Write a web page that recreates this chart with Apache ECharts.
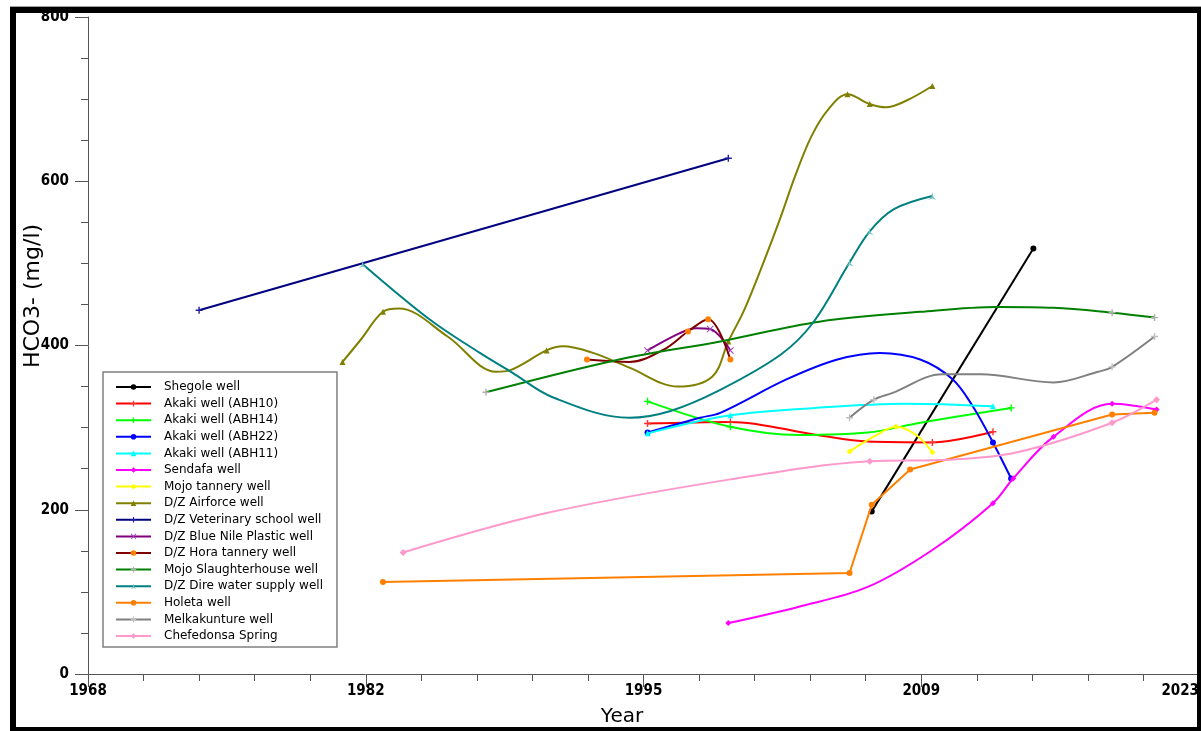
<!DOCTYPE html>
<html><head><meta charset="utf-8">
<script src="https://cdn.jsdelivr.net/npm/echarts@6/dist/echarts.min.js"></script>
<style>html,body{margin:0;padding:0;background:#fff}#c{width:1201px;height:731px}</style>
</head><body><div id="c"></div>
<script>
// ---- tick labels ----
const xTickLabels = ['1968', '1982', '1995', '2009', '2023'];
const yTickValues = [0, 200, 400, 600, 800];

// ---- series names ----
const seriesNames = ['Shegole well', 'Akaki well (ABH10)', 'Akaki well (ABH14)', 'Akaki well (ABH22)',
  'Akaki well (ABH11)', 'Sendafa well', 'Mojo tannery well', 'D/Z Airforce well', 'D/Z Veterinary school well',
  'D/Z Blue Nile Plastic well', 'D/Z Hora tannery well', 'Mojo Slaughterhouse well', 'D/Z Dire water supply well',
  'Holeta well', 'Melkakunture well', 'Chefedonsa Spring'];

// ---- sampled points [year, HCO3 mg/l] (shown with markers) ----
const shegole = [[2006.8, 198], [2014.8, 518]];
const abh10 = [[1995.7, 305], [1999.8, 307], [2009.8, 282], [2012.8, 295]];
const abh14 = [[1995.7, 332], [1999.8, 301], [2013.7, 324]];
const abh22 = [[1995.7, 294], [2012.8, 282], [2013.7, 238]];
const abh11 = [[1995.7, 293], [1999.8, 315], [2012.8, 326]];
const sendafa = [[1999.7, 62], [2012.8, 208], [2013.8, 238], [2015.8, 289], [2018.7, 329], [2020.9, 322]];
const mojoTannery = [[2005.7, 271], [2008.0, 301], [2009.8, 270]];
const airforce = [[1980.6, 380], [1982.6, 441], [1990.7, 394], [1999.7, 405], [2005.6, 706], [2006.7, 694], [2009.8, 716]];
const veterinary = [[1973.5, 443], [1999.7, 628]];
const blueNile = [[1995.7, 394], [1998.8, 420], [1999.8, 394]];
const hora = [[1992.7, 383], [1997.7, 417], [1998.7, 432], [1999.8, 383]];
const mojoSlaughter = [[1987.7, 343], [2018.7, 440], [2020.8, 434]];
const dire = [[1981.6, 499], [2005.7, 501], [2006.7, 539], [2009.8, 582]];
const holeta = [[1982.6, 112], [2005.7, 123], [2006.8, 206], [2008.7, 249], [2018.7, 316], [2020.8, 318]];
const melkakunture = [[2005.7, 312], [2006.9, 334], [2018.7, 374], [2020.8, 411]];
const chefedonsa = [[1983.6, 148], [2006.7, 259], [2018.7, 306], [2020.9, 334]];

// ---- extra points (no markers) ----
const abh10Trace = [[2004.1, 291], [2006.6, 283]];
const abh14Trace = [[2003.2, 291], [2006.6, 294], [2009.2, 306]];
const abh22Trace = [[1998.3, 312], [1999.3, 318], [2002.6, 359], [2005.1, 383], [2007.2, 391], [2009.2, 383], [2010.8, 359], [2011.8, 326]];
const abh11Trace = [[2004.0, 324], [2008.5, 329]];
const sendafaTrace = [[2003.2, 82], [2006.6, 106], [2009.8, 151]];
const mojoTanneryTrace = [[2006.9, 289], [2009.0, 291]];
const airforceTrace = [[1981.5, 407], [1983.4, 445], [1985.8, 411], [1988.2, 368], [1988.9, 370], [1991.5, 399],
  [1993.0, 391], [1994.8, 373], [1997.2, 350], [1998.9, 362], [2000.5, 444], [2001.5, 505], [2002.3, 557],
  [2003.0, 606], [2003.8, 654], [2004.6, 686], [2007.5, 690], [2008.5, 698]];
const blueNileTrace = [[1997.3, 415], [1998.1, 421]];
const horaTrace = [[1994.8, 380], [1996.5, 395]];
const mojoSlaughterTrace = [[1994.3, 383], [1999.3, 405], [2004.2, 429], [2009.2, 441], [2013.0, 447], [2015.8, 446]];
const direTrace = [[1984.9, 432], [1987.4, 391], [1989.0, 367], [1991.0, 337], [1994.8, 312], [1996.8, 320],
  [1999.3, 346], [2002.3, 389], [2003.9, 428], [2007.9, 566]];
const melkakuntureTrace = [[2007.8, 342], [2010.3, 365], [2012.2, 365], [2015.8, 355], [2018.0, 368]];
const chefedonsaTrace = [[1990.7, 196], [1999.8, 237], [2010.7, 261], [2014.0, 270]];

// ---- styles ----
const PLUS = 'path://M4,0H6V4H10V6H6V10H4V6H0V4H4Z';
const CROSS = 'path://M1,0L5,4L9,0L10,1L6,5L10,9L9,10L5,6L1,10L0,9L4,5L0,1Z';
const STAR3 = 'path://M5,0L6.2,6L10,9.5L5,7.6L0,9.5L3.8,6Z';

const defs = [
  [shegole, [], '#000000', '#000000', 'circle', 6, false],
  [abh10, abh10Trace, '#ff0000', '#ff3030', PLUS, 7, true],
  [abh14, abh14Trace, '#00ff00', '#00ff00', PLUS, 7, true],
  [abh22, abh22Trace, '#0000ff', '#0000ff', 'circle', 6, true],
  [abh11, abh11Trace, '#00ffff', '#00ffff', 'triangle', 6, true],
  [sendafa, sendafaTrace, '#ff00ff', '#ff00ff', 'diamond', 6, true],
  [mojoTannery, mojoTanneryTrace, '#ffff00', '#ffff00', 'diamond', 6, true],
  [airforce, airforceTrace, '#808000', '#808000', 'triangle', 6, true],
  [veterinary, [], '#000080', '#2020a0', PLUS, 7, false],
  [blueNile, blueNileTrace, '#800080', '#a040c0', CROSS, 7, true],
  [hora, horaTrace, '#800000', '#ff8000', 'circle', 6, true],
  [mojoSlaughter, mojoSlaughterTrace, '#008000', '#b0b0b0', PLUS, 7, true],
  [dire, direTrace, '#008080', '#70c0c0', STAR3, 8, true],
  [holeta, [], '#ff8000', '#ff8000', 'circle', 6, false],
  [melkakunture, melkakuntureTrace, '#808080', '#c0c0c0', PLUS, 7, true],
  [chefedonsa, chefedonsaTrace, '#ff99cc', '#ff99cc', 'diamond', 7, true]
];

const series = defs.map((d, i) => {
  const [pts, trace, color, mark, symbol, size, smooth] = d;
  const data = pts.map(p => ({ value: p }))
    .concat(trace.map(p => ({ value: p, symbol: 'none' })))
    .sort((a, b) => a.value[0] - b.value[0]);
  return {
    name: seriesNames[i], type: 'line', data: data,
    smooth: smooth ? 0.35 : false,
    symbol: symbol, symbolSize: size, showSymbol: true,
    lineStyle: { color: color, width: 2 },
    itemStyle: { color: mark },
    emphasis: { disabled: true },
    z: 2 + i
  };
});

const FONT = "'DejaVu Sans', Verdana, sans-serif";
const TICKFONT = "'DejaVu Sans Condensed', 'DejaVu Sans', sans-serif";
const chart = echarts.init(document.getElementById('c'), null, { renderer: 'canvas' });
chart.setOption({
  animation: false,
  backgroundColor: '#ffffff',
  grid: { left: 88, right: 2, top: 17, bottom: 57, containLabel: false, outerBoundsMode: 'none' },
  xAxis: {
    type: 'value', min: 1968, max: 2023, interval: 13.75,
    axisLine: { show: true, lineStyle: { color: '#555', width: 1 } },
    axisTick: { show: true, length: 13, lineStyle: { color: '#555' } },
    minorTick: { show: true, splitNumber: 5, length: 7, lineStyle: { color: '#555' } },
    splitLine: { show: false },
    axisLabel: {
      margin: 10, color: '#000', fontFamily: TICKFONT, fontSize: 15, fontWeight: 'bold',
      alignMaxLabel: 'right',
      formatter: v => xTickLabels[Math.round((v - 1968) / 13.75)]
    }
  },
  yAxis: {
    type: 'value', min: yTickValues[0], max: yTickValues[yTickValues.length - 1], interval: 200,
    axisLine: { show: true, lineStyle: { color: '#555', width: 1 } },
    axisTick: { show: true, length: 13, lineStyle: { color: '#555' } },
    minorTick: { show: true, splitNumber: 4, length: 7, lineStyle: { color: '#555' } },
    splitLine: { show: false },
    axisLabel: { margin: 19, color: '#000', fontFamily: TICKFONT, fontSize: 15, fontWeight: 'bold' }
  },
  legend: {
    data: seriesNames, orient: 'vertical', left: 103, top: 372,
    itemWidth: 35, itemHeight: 7, itemGap: 4.6,
    padding: [9, 14, 5, 12],
    backgroundColor: '#ffffff', borderColor: '#808080', borderWidth: 1.5,
    textStyle: { color: '#000', fontFamily: FONT, fontSize: 12, lineHeight: 12, padding: [0, 0, 0, 8] },
    selectedMode: false
  },
  graphic: [
    { type: 'text', x: 622, y: 717, style: { text: 'Year', fill: '#000', align: 'center', verticalAlign: 'middle', font: "20px 'DejaVu Sans', sans-serif" } },
    { type: 'text', x: 33, y: 296, rotation: Math.PI / 2, style: { text: 'HCO3- (mg/l)', fill: '#000', align: 'center', verticalAlign: 'middle', font: "22px 'DejaVu Sans', sans-serif" } },
    { type: 'rect', shape: { x: 10, y: 6, width: 1191, height: 1 }, style: { fill: '#a0a0a0' }, z: 100 },
    { type: 'rect', shape: { x: 10, y: 7, width: 6, height: 724 }, style: { fill: '#000' }, z: 100 },
    { type: 'rect', shape: { x: 10, y: 7, width: 1191, height: 6 }, style: { fill: '#000' }, z: 100 },
    { type: 'rect', shape: { x: 1197, y: 7, width: 4, height: 724 }, style: { fill: '#000' }, z: 100 },
    { type: 'rect', shape: { x: 10, y: 727, width: 1191, height: 4 }, style: { fill: '#000' }, z: 100 }
  ],
  series: series
});
</script>
</body></html>
